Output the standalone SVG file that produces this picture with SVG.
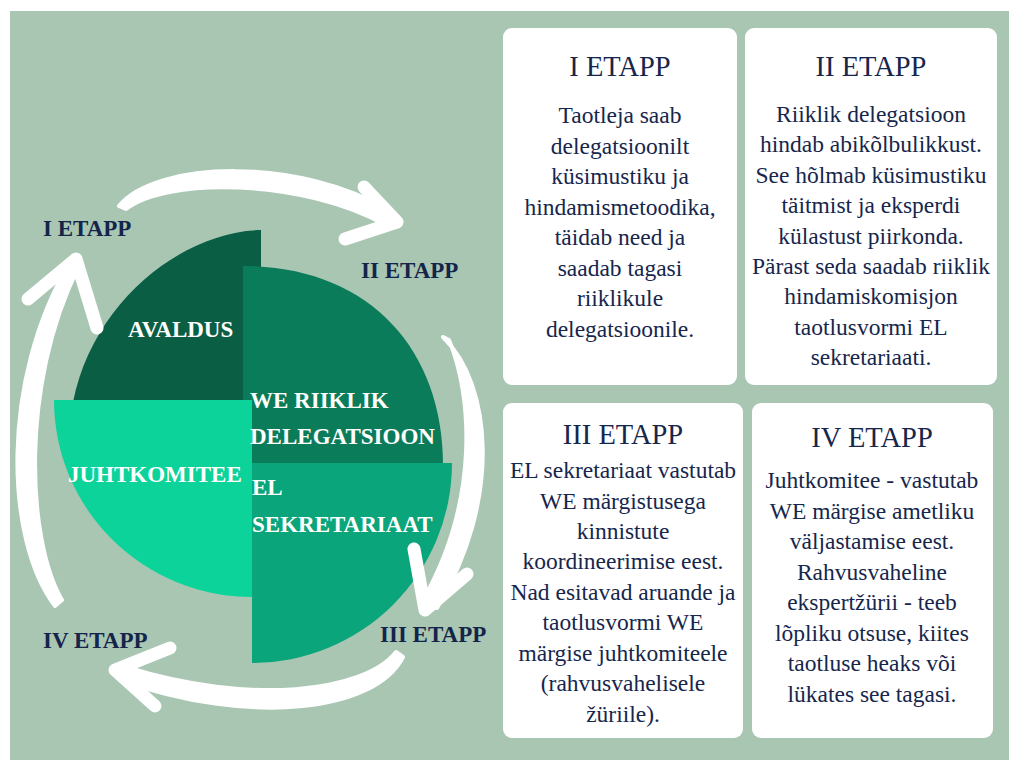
<svg xmlns="http://www.w3.org/2000/svg" width="1009" height="760" viewBox="0 0 1009 760">
  <style>
    .bg { fill: #a9c6b3; }
    .card { fill: #ffffff; }
    .title { font-family: "Liberation Serif", "Times New Roman", serif; font-size: 28.5px; fill: #16264c; text-anchor: middle; }
    .body { font-family: "Liberation Serif", "Times New Roman", serif; font-size: 23.5px; fill: #16264c; text-anchor: middle; }
    .stage { font-family: "Liberation Serif", "Times New Roman", serif; font-size: 23px; font-weight: bold; fill: #14244a; }
    .slice-label { font-family: "Liberation Serif", "Times New Roman", serif; font-size: 23px; font-weight: bold; fill: #ffffff; }
    .shaft { fill: #ffffff; stroke: #ffffff; stroke-width: 4; stroke-linejoin: round; }
    .head { fill: none; stroke: #ffffff; stroke-width: 13; stroke-linecap: round; stroke-linejoin: round; }
  </style>

  <rect width="1009" height="760" fill="#ffffff"/>
  <rect class="bg" x="10" y="11" width="999" height="749"/>

  <!-- pie of four offset quarters -->
  <g id="pie">
    <g id="slice-avaldus">
      <path d="M261,230 C185,231 93,300 73,402 L261,402 Z" fill="#0a5e44"/>
    </g>
    <g id="slice-delegatsioon">
      <path d="M243,266 C365,266 443,345 443,466 L243,466 Z" fill="#0b7c59"/>
    </g>
    <g id="slice-juhtkomitee">
      <path d="M252,400 L252,597 A198,197 0 0 1 54,400 Z" fill="#0cd39a"/>
    </g>
    <g id="slice-sekretariaat">
      <path d="M252,463 L452,463 A200,200 0 0 1 252,663 Z" fill="#0aa57a"/>
    </g>
    <text class="slice-label" x="128" y="337">AVALDUS</text>
    <text class="slice-label" x="250" y="408">WE RIIKLIK</text>
    <text class="slice-label" x="250" y="444">DELEGATSIOON</text>
    <text class="slice-label" x="68" y="482">JUHTKOMITEE</text>
    <text class="slice-label" x="252" y="495">EL</text>
    <text class="slice-label" x="252" y="532">SEKRETARIAAT</text>
  </g>

  <!-- cycle arrows: tapered brush shafts with chevron heads -->
  <g id="connectors">
    <path class="shaft" d="M119,206 C155,161 300,156 392,212 L388,226 C300,177 165,178 126,209 Z"/>
    <polyline class="head" points="364,187 397,222 345,239"/>

    <path class="shaft" d="M443,337 C492,385 502,500 437,608 L423,600 C480,500 472,395 449,340 Z"/>
    <polyline class="head" points="414,549 425,610 467,574"/>

    <path class="shaft" d="M403,657 C375,712 250,726 120,680 L126,667 C250,706 365,692 396,652 Z"/>
    <polyline class="head" points="170,648 115,670 155,706"/>

    <path class="shaft" d="M55,606 C5,540 0,380 70,262 L78,268 C20,385 27,540 62,600 Z"/>
    <polyline class="head" points="28,299 76,259 97,328"/>
  </g>

  <g id="stage-labels">
    <text class="stage" x="43" y="236">I ETAPP</text>
    <text class="stage" x="361" y="278">II ETAPP</text>
    <text class="stage" x="380" y="642">III ETAPP</text>
    <text class="stage" x="43" y="648">IV ETAPP</text>
  </g>

  <g id="card-1">
    <rect class="card" x="503" y="28" width="234" height="357" rx="9"/>
    <text class="title" x="620" y="76">I ETAPP</text>
    <text class="body" x="620" y="123">Taotleja saab</text>
    <text class="body" x="620" y="153.5">delegatsioonilt</text>
    <text class="body" x="620" y="184">küsimustiku ja</text>
    <text class="body" x="620" y="214.5">hindamismetoodika,</text>
    <text class="body" x="620" y="245">täidab need ja</text>
    <text class="body" x="620" y="275.5">saadab tagasi</text>
    <text class="body" x="620" y="306">riiklikule</text>
    <text class="body" x="620" y="336.5">delegatsioonile.</text>
  </g>

  <g id="card-2">
    <rect class="card" x="745" y="28" width="252" height="357" rx="9"/>
    <text class="title" x="871" y="76">II ETAPP</text>
    <text class="body" x="871" y="122">Riiklik delegatsioon</text>
    <text class="body" x="871" y="152.4">hindab abikõlbulikkust.</text>
    <text class="body" x="871" y="182.8">See hõlmab küsimustiku</text>
    <text class="body" x="871" y="213.2">täitmist ja eksperdi</text>
    <text class="body" x="871" y="243.6">külastust piirkonda.</text>
    <text class="body" x="871" y="274">Pärast seda saadab riiklik</text>
    <text class="body" x="871" y="304.4">hindamiskomisjon</text>
    <text class="body" x="871" y="334.8">taotlusvormi EL</text>
    <text class="body" x="871" y="365.2">sekretariaati.</text>
  </g>

  <g id="card-3">
    <rect class="card" x="503" y="403" width="240" height="335" rx="9"/>
    <text class="title" x="623" y="444">III ETAPP</text>
    <text class="body" x="623" y="478">EL sekretariaat vastutab</text>
    <text class="body" x="623" y="508.5">WE märgistusega</text>
    <text class="body" x="623" y="539">kinnistute</text>
    <text class="body" x="623" y="569.4">koordineerimise eest.</text>
    <text class="body" x="623" y="599.8">Nad esitavad aruande ja</text>
    <text class="body" x="623" y="630.3">taotlusvormi WE</text>
    <text class="body" x="623" y="660.7">märgise juhtkomiteele</text>
    <text class="body" x="623" y="691.2">(rahvusvahelisele</text>
    <text class="body" x="623" y="721.7">žüriile).</text>
  </g>

  <g id="card-4">
    <rect class="card" x="752" y="403" width="241" height="335" rx="9"/>
    <text class="title" x="872" y="447">IV ETAPP</text>
    <text class="body" x="872" y="488">Juhtkomitee - vastutab</text>
    <text class="body" x="872" y="518.5">WE märgise ametliku</text>
    <text class="body" x="872" y="549">väljastamise eest.</text>
    <text class="body" x="872" y="579.5">Rahvusvaheline</text>
    <text class="body" x="872" y="610">ekspertžürii - teeb</text>
    <text class="body" x="872" y="640.5">lõpliku otsuse, kiites</text>
    <text class="body" x="872" y="671">taotluse heaks või</text>
    <text class="body" x="872" y="701.5">lükates see tagasi.</text>
  </g>
</svg>
